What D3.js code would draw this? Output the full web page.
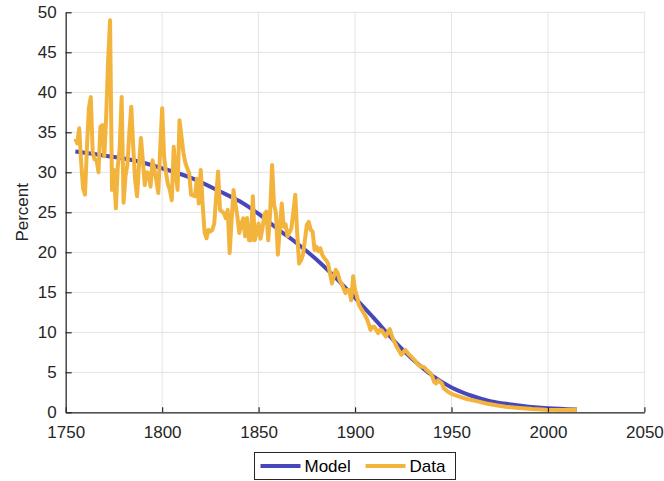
<!DOCTYPE html>
<html>
<head>
<meta charset="utf-8">
<script src="https://cdn.jsdelivr.net/npm/d3@7"></script>
<style>
  html, body { margin: 0; padding: 0; background: #fff; }
  svg { display: block; font-family: "Liberation Sans", Arial, Helvetica, sans-serif; }
</style>
</head>
<body>
<svg id="chart" width="664" height="481"></svg>
<script>
// Observed yearly share (percent)
const dataYears = [1755,1756,1757,1758,1759,1760,1761,1762,1763,1764,1765,1766,1767,1768,1769,1770,1771,1772,1773,1774,1775,1776,1777,1778,1779,1780,1781,1782,1783,1784,1785,1786,1787,1788,1789,1790,1791,1792,1793,1794,1795,1796,1797,1798,1799,1800,1801,1802,1803,1804,1805,1806,1807,1808,1809,1810,1811,1812,1813,1814,1815,1816,1817,1818,1819,1820,1821,1822,1823,1824,1825,1826,1827,1828,1829,1830,1831,1832,1833,1834,1835,1836,1837,1838,1839,1840,1841,1842,1843,1844,1845,1846,1847,1848,1849,1850,1851,1852,1853,1854,1855,1856,1857,1858,1859,1860,1861,1862,1863,1864,1865,1866,1867,1868,1869,1870,1871,1872,1873,1874,1875,1876,1877,1878,1879,1880,1881,1882,1883,1884,1885,1886,1887,1888,1889,1890,1891,1892,1893,1894,1895,1896,1897,1898,1899,1900,1901,1902,1903,1904,1905,1906,1907,1908,1909,1910,1911,1912,1913,1914,1915,1916,1917,1918,1919,1920,1921,1922,1923,1924,1925,1926,1927,1928,1929,1930,1931,1932,1933,1934,1935,1936,1937,1938,1939,1940,1941,1942,1943,1944,1945,1946,1947,1948,1950,1954,1958,1963,1968,1973,1978,1985,1992,1999,2006,2015];
const dataValues = [34.2,33.6,35.5,31.3,28.0,27.2,33.0,38.0,39.4,32.5,31.6,31.5,30.0,35.7,35.9,32.0,37.0,44.0,49.0,27.8,30.3,25.5,30.7,33.0,39.4,26.2,29.5,31.0,35.0,38.2,33.2,29.0,27.0,31.0,34.3,31.5,28.4,30.0,29.9,28.2,31.5,30.3,29.0,27.4,33.0,38.0,32.0,29.9,28.5,27.8,26.5,33.2,30.0,27.8,36.5,34.5,32.5,31.2,30.5,29.9,27.2,27.1,27.0,29.2,26.1,30.3,26.0,22.5,21.75,22.8,22.6,22.8,23.6,27.0,30.1,25.3,25.1,24.9,24.25,25.3,19.9,24.0,27.8,26.0,24.45,22.4,23.5,24.25,22.0,24.3,21.5,21.5,27.0,21.5,22.5,23.6,21.7,23.0,24.7,25.1,21.5,25.0,30.9,26.0,24.9,19.7,23.0,26.1,23.2,23.5,22.0,22.5,23.0,25.0,27.2,22.4,18.6,19.0,19.7,21.5,23.4,23.8,22.8,22.6,20.3,20.7,20.1,20.5,19.7,19.3,19.0,18.6,17.4,16.1,17.0,17.8,17.4,16.5,16.1,15.5,14.9,15.3,15.3,14.0,17.0,15.3,14.5,13.4,13.0,12.6,12.2,11.75,11.1,10.3,10.7,10.7,10.3,9.9,10.3,10.2,9.8,9.45,10.0,10.4,9.6,9.0,8.5,8.0,7.6,7.2,7.5,7.8,7.5,7.2,7.0,6.75,6.5,6.1,5.9,5.7,5.7,5.6,5.3,5.1,4.9,4.5,3.8,3.6,4.0,3.8,3.6,3.0,2.8,2.6,2.3,1.95,1.66,1.4,1.1,0.88,0.7,0.54,0.41,0.32,0.3,0.32];

// Fitted model curve (percent)
const modelYears = [1755,1770,1785,1800,1815,1830,1840,1850,1860,1870,1880,1890,1900,1910,1920,1930,1940,1950,1960,1970,1980,1990,2000,2015];
const modelValues = [32.6,32.1,31.5,30.5,29.3,27.6,26.4,24.8,22.9,21.1,19.1,16.8,14.3,11.7,9.0,6.6,4.6,3.1,2.1,1.4,1.0,0.7,0.5,0.35];

// Axis ticks and labels
const xTicks = [1750,1800,1850,1900,1950,2000,2050];
const yTicks = [0,5,10,15,20,25,30,35,40,45,50];
const yLabel = "Percent";
const seriesNames = ["Model", "Data"];

const colors = { model: "#4747b9", data: "#f3b43e", axis: "#262626", grid: "#e3e3e3" };

const margin = { left: 65.7, right: 19.6, top: 12.3, bottom: 68.7 };
const W = 664, H = 481;
const svg = d3.select("#chart");

const x = d3.scaleLinear().domain([1750, 2050]).range([margin.left, W - margin.right]);
const y = d3.scaleLinear().domain([0, 50]).range([H - margin.bottom, margin.top]);

// Grid
const grid = svg.append("g");
grid.selectAll("line.gx").data(xTicks).join("line")
  .attr("x1", d => x(d)).attr("x2", d => x(d))
  .attr("y1", y(0)).attr("y2", y(50))
  .attr("stroke", colors.grid).attr("stroke-width", 1);
grid.selectAll("line.gy").data(yTicks).join("line")
  .attr("x1", x(1750)).attr("x2", x(2050))
  .attr("y1", d => y(d)).attr("y2", d => y(d))
  .attr("stroke", colors.grid).attr("stroke-width", 1);

// Series
const modelLine = d3.line().x((d, i) => x(modelYears[i])).y(d => y(d)).curve(d3.curveMonotoneX);
const dataLine = d3.line().x((d, i) => x(dataYears[i])).y(d => y(d));

svg.append("path").datum(modelValues)
  .attr("d", modelLine).attr("fill", "none")
  .attr("stroke", colors.model).attr("stroke-width", 4);
svg.append("path").datum(dataValues)
  .attr("d", dataLine).attr("fill", "none")
  .attr("stroke", colors.data).attr("stroke-width", 4)
  .attr("stroke-linejoin", "round");

// Axes with inward ticks
const xAxis = d3.axisBottom(x).tickValues(xTicks).tickFormat(d3.format("d")).tickSizeInner(-5).tickSizeOuter(0).tickPadding(14);
const yAxis = d3.axisLeft(y).tickValues(yTicks).tickFormat(d3.format("d")).tickSizeInner(-6).tickSizeOuter(0).tickPadding(9);

const gx = svg.append("g").attr("transform", `translate(0,${y(0)})`).call(xAxis);
const gy = svg.append("g").attr("transform", `translate(${x(1750)},0)`).call(yAxis);
[gx, gy].forEach(g => {
  g.select(".domain").attr("stroke", colors.axis).attr("stroke-width", 1.2);
  g.selectAll(".tick line").attr("stroke", colors.axis).attr("stroke-width", 1.2);
  g.selectAll(".tick text").attr("fill", colors.axis).attr("font-size", 17)
    .attr("font-family", "'Liberation Sans', Arial, sans-serif");
});
gx.selectAll(".tick text").attr("dy", "0.71em");

svg.append("text")
  .attr("transform", `translate(28,${(y(0) + y(50)) / 2}) rotate(-90)`)
  .attr("text-anchor", "middle")
  .attr("fill", colors.axis).attr("font-size", 17)
  .text(yLabel);

// Legend
const lg = svg.append("g").attr("transform", "translate(254.5,452.5)");
lg.append("rect").attr("width", 201).attr("height", 27)
  .attr("fill", "#fff").attr("stroke", colors.axis).attr("stroke-width", 1);
const items = [
  { name: seriesNames[0], color: colors.model, x0: 6 },
  { name: seriesNames[1], color: colors.data, x0: 111 }
];
items.forEach(it => {
  lg.append("line").attr("x1", it.x0).attr("x2", it.x0 + 40)
    .attr("y1", 13.5).attr("y2", 13.5)
    .attr("stroke", it.color).attr("stroke-width", 4);
  lg.append("text").attr("x", it.x0 + 44).attr("y", 13.5).attr("dy", "0.35em")
    .attr("fill", "#000").attr("font-size", 17).text(it.name);
});
</script>
</body>
</html>
